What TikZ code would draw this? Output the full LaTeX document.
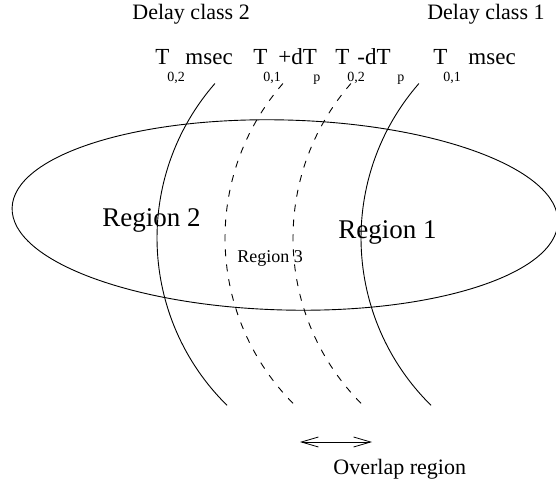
\documentclass[tikz,border=0pt]{standalone}
\usepackage{fontspec}
\setmainfont{Liberation Serif}
\usetikzlibrary{arrows.meta}

\begin{document}
\begin{tikzpicture}[
    x=1pt, y=1pt,
    line width=0.9pt,
    contour/.style={draw=black},
    overlapcontour/.style={draw=black, dash pattern=on 7pt off 8pt},
    headtext/.style={font=\fontsize{22}{26}\selectfont, inner sep=0pt, anchor=base west},
    labelmain/.style={font=\fontsize{23}{27}\selectfont, inner sep=0pt, anchor=base west},
    labelsub/.style={font=\fontsize{14}{17}\selectfont, inner sep=0pt, anchor=base west},
    regionbig/.style={font=\fontsize{27}{31}\selectfont, inner sep=0pt, anchor=base west},
    regionsmall/.style={font=\fontsize{18}{21}\selectfont, inner sep=0pt, anchor=base west},
    >={Straight Barb[length=17pt,width=10pt]}
  ]
  \useasboundingbox (0,0) rectangle (556,-486);
  \clip (0,0) rectangle (556,-486);

  % service area
  \draw (285,-215) ellipse [x radius=273, y radius=95, rotate=-1.5];

  % delay contours: circular arcs of equal radius, spaced 68 apart
  \coordinate (c2)  at (392,-238);
  \coordinate (c1p) at (460,-238);
  \coordinate (c2m) at (528,-238);
  \coordinate (c1)  at (596,-238);
  \draw[contour]        ([shift={(138.9:235)}]c2)  arc[start angle=138.9, end angle=225.4, radius=235];
  \draw[overlapcontour] ([shift={(138.9:235)}]c1p) arc[start angle=138.9, end angle=225.4, radius=235];
  \draw[overlapcontour] ([shift={(138.9:235)}]c2m) arc[start angle=138.9, end angle=225.4, radius=235];
  \draw[contour]        ([shift={(138.9:235)}]c1)  arc[start angle=138.9, end angle=225.4, radius=235];

  % class headings
  \node[headtext] (dc2) at (132,-20) {Delay class 2};
  \node[headtext, anchor=base east] (dc1) at (545,-20) {Delay class 1};

  % contour labels
  \node[labelmain] (tA)  at (155,-65) {T};
  \node[labelsub]  (tAs) at (167,-82) {0,2};
  \node[labelmain] (tAm) at (185,-65) {msec};

  \node[labelmain] (tB)  at (253,-65) {T};
  \node[labelsub]  (tBs) at (263,-82) {0,1};
  \node[labelmain] (tBd) at (278,-65) {+dT};
  \node[labelsub]  (tBp) at (313,-82) {p};

  \node[labelmain] (tC)  at (335,-65) {T};
  \node[labelsub]  (tCs) at (347,-82) {0,2};
  \node[labelmain] (tCd) at (357,-65) {-dT};
  \node[labelsub]  (tCp) at (397,-82) {p};

  \node[labelmain] (tD)  at (433,-65) {T};
  \node[labelsub]  (tDs) at (443,-82) {0,1};
  \node[labelmain] (tDm) at (468,-65) {msec};

  % region names
  \node[regionbig]   (r2) at (102,-226) {Region 2};
  \node[regionbig]   (r1) at (338,-238) {Region 1};
  \node[regionsmall] (r3) at (237,-262) {Region 3};

  % overlap width marker
  \coordinate (ovl) at (300,-442);
  \coordinate (ovr) at (372,-442);
  \draw[<->, line width=0.8pt] (ovl) -- (ovr);
  \node[headtext] (ovtext) at (333,-474) {Overlap region};
\end{tikzpicture}
\end{document}
